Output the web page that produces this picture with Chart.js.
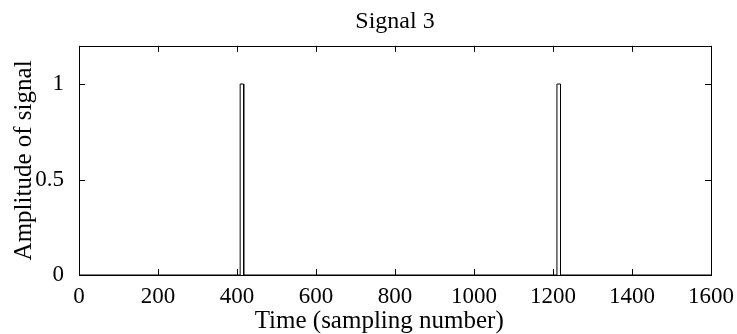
<!DOCTYPE html>
<html>
<head>
<meta charset="utf-8">
<script src="https://cdn.jsdelivr.net/npm/chart.js@4.4.1/dist/chart.umd.min.js"></script>
<style>
  html, body { margin: 0; padding: 0; background: #fff; }
  #wrap { width: 737px; height: 334px; }
</style>
</head>
<body>
<div id="wrap"><canvas id="sig"></canvas></div>
<script>
// Signal 3: rectangular pulses, sample index vs amplitude
const sampleIdx = [0, 408, 408, 417, 417, 1210, 1210, 1219, 1219, 1600];
const amplitude = [0, 0, 1, 1, 0, 0, 1, 1, 0, 0];
const xTicks = [0, 200, 400, 600, 800, 1000, 1200, 1400, 1600];
const yTicks = [0, 0.5, 1];
const xLabel = 'Time (sampling number)';

const points = sampleIdx.map((x, i) => ({ x: x, y: amplitude[i] }));
const serif = 'Liberation Serif, "Times New Roman", serif';

// box around the axes, inward ticks on all four sides, and the x label
const boxTicks = {
    id: 'boxTicks',
    afterDatasetsDraw(chart) {
        const { ctx, chartArea: a, scales } = chart;
        const len = 6;
        ctx.save();
        ctx.strokeStyle = '#000';
        ctx.lineWidth = 1;
        ctx.beginPath();
        xTicks.forEach(v => {
            const px = Math.round(scales.x.getPixelForValue(v)) + 0.5;
            ctx.moveTo(px, a.bottom); ctx.lineTo(px, a.bottom - len);
            ctx.moveTo(px, a.top); ctx.lineTo(px, a.top + len);
        });
        yTicks.forEach(v => {
            const py = Math.round(scales.y.getPixelForValue(v)) + 0.5;
            ctx.moveTo(a.left, py); ctx.lineTo(a.left + len, py);
            ctx.moveTo(a.right, py); ctx.lineTo(a.right - len, py);
        });
        ctx.stroke();
        ctx.strokeRect(Math.round(a.left) + 0.5, Math.round(a.top) + 0.5,
            Math.round(a.right - a.left), Math.round(a.bottom - a.top));

        // x label sits a little left of the axes centre
        ctx.fillStyle = '#000';
        ctx.font = '25px ' + serif;
        ctx.textAlign = 'center';
        ctx.textBaseline = 'middle';
        ctx.fillText(xLabel, scales.x.getPixelForValue(760), 321);
        ctx.restore();
    }
};

new Chart(document.getElementById('sig'), {
    type: 'scatter',
    data: {
        datasets: [{
            data: points,
            showLine: true,
            borderColor: '#000',
            borderWidth: 1,
            pointRadius: 0,
            tension: 0
        }]
    },
    options: {
        responsive: true,
        maintainAspectRatio: false,
        animation: false,
        layout: { padding: { left: 0, right: 26, top: 0, bottom: 0 } },
        plugins: {
            legend: { display: false },
            tooltip: { enabled: false },
            title: {
                display: true,
                text: 'Signal 3',
                fullSize: false,
                color: '#000',
                font: { family: serif, size: 24, weight: 'normal' },
                padding: { top: 7, bottom: 10 }
            }
        },
        scales: {
            x: {
                type: 'linear',
                min: 0,
                max: 1600,
                grid: { display: false },
                border: { display: false },
                afterBuildTicks(scale) { scale.ticks = xTicks.map(v => ({ value: v })); },
                afterFit(scale) { scale.height = 59; },
                ticks: {
                    color: '#000',
                    padding: 0,
                    maxRotation: 0,
                    font: { family: serif, size: 23 },
                    callback: v => String(v)
                },
                title: { display: false }
            },
            y: {
                type: 'linear',
                min: 0,
                max: 1.2,
                grid: { display: false },
                border: { display: false },
                afterBuildTicks(scale) { scale.ticks = yTicks.map(v => ({ value: v })); },
                afterFit(scale) { scale.width = 79; },
                ticks: {
                    color: '#000',
                    padding: 7,
                    font: { family: serif, size: 23 },
                    callback: v => String(v)
                },
                title: {
                    display: true,
                    text: 'Amplitude of signal',
                    color: '#000',
                    font: { family: serif, size: 25 },
                    padding: { top: 9, bottom: 0 }
                }
            }
        }
    },
    plugins: [boxTicks]
});
</script>
</body>
</html>
